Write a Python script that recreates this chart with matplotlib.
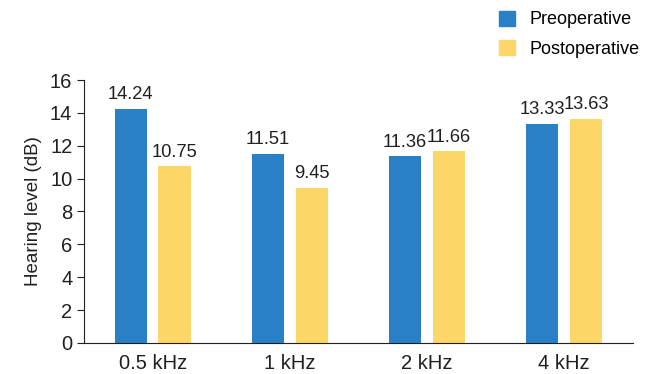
import numpy as np
import matplotlib.pyplot as plt
from matplotlib.patches import Patch

plt.rcParams['font.family'] = ['Liberation Sans', 'DejaVu Sans']

freqs = ['0.5 kHz', '1 kHz', '2 kHz', '4 kHz']
preop = [14.24, 11.51, 11.36, 13.33]
postop = [10.75, 9.45, 11.66, 13.63]

blue = '#2A80C6'
yellow = '#FDD668'

fig = plt.figure(figsize=(6.57, 3.74), dpi=100)
ax = fig.add_axes([0.128, 0.083, 0.835, 0.703])

x = np.arange(len(freqs))
w = 0.235
off = 0.16
b1 = ax.bar(x - off, preop, w, color=blue)
b2 = ax.bar(x + off, postop, w, color=yellow)

for bars, vals in [(b1, preop), (b2, postop)]:
    for b, v in zip(bars, vals):
        ax.text(b.get_x() + b.get_width() / 2, v + 0.35, f'{v:.2f}',
                ha='center', va='bottom', fontsize=13.2, color='#231f20')

ax.set_xlim(-0.5, 3.5)
ax.set_ylim(0, 16)
ax.set_yticks(range(0, 17, 2))
ax.set_xticks(x)
ax.set_xticklabels(freqs)
ax.tick_params(axis='both', labelsize=14.5, colors='#231f20', length=5)
ax.tick_params(axis='x', length=0, pad=8)
ax.set_ylabel('Hearing level (dB)', fontsize=13.5, color='#231f20', labelpad=6)
ax.spines['top'].set_visible(False)
ax.spines['right'].set_visible(False)
ax.spines['left'].set_color('#231f20')
ax.spines['bottom'].set_color('#231f20')

handles = [Patch(color=blue, label='Preoperative'), Patch(color=yellow, label='Postoperative')]
fig.legend(handles=handles, loc='upper left', bbox_to_anchor=(0.735, 1.015),
           frameon=False, fontsize=13, handlelength=0.9, handleheight=0.9,
           handletextpad=0.8, labelspacing=0.65)

plt.savefig('out.png', dpi=100)
